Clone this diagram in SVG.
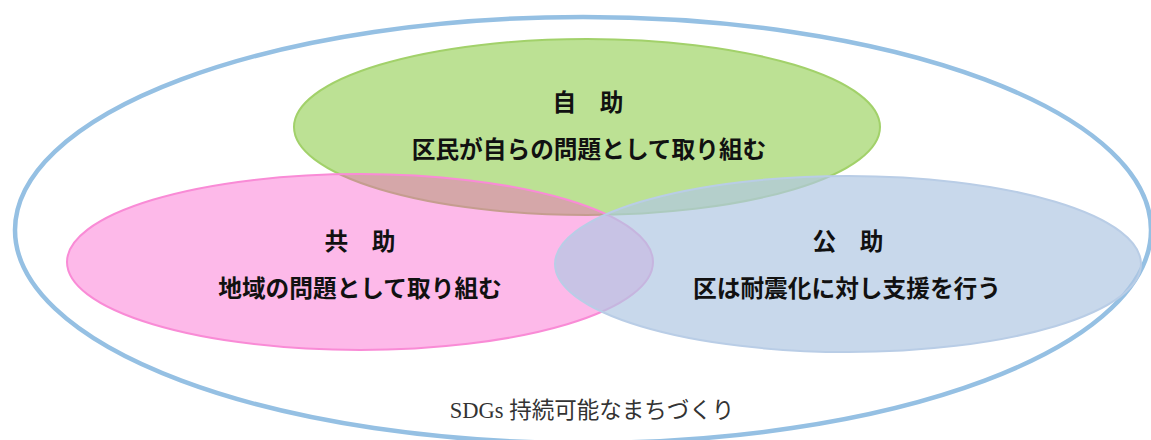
<svg xmlns="http://www.w3.org/2000/svg" width="1151" height="440" viewBox="0 0 1151 440">
<style>
.lbl{font-family:"Noto Sans CJK JP","Noto Sans",sans-serif;font-size:23.7px;font-weight:700;fill:#111;text-anchor:middle}
.foot{font-family:"Liberation Serif","Noto Sans CJK JP",serif;font-size:22.5px;fill:#333;text-anchor:middle}
</style>
<rect width="1151" height="440" fill="#ffffff"/>
<g id="outer">
<ellipse cx="583" cy="230" rx="568" ry="213" fill="none" stroke="#95c0e3" stroke-width="4.5"/>
<text class="foot" x="592" y="418">SDGs 持続可能なまちづくり</text>
</g>
<g id="jijo">
<ellipse cx="587" cy="127" rx="293" ry="88" fill="#bce194" stroke="#a2d16a" stroke-width="2"/>
<text class="lbl" x="588" y="111">自　助</text>
<text class="lbl" x="589" y="158">区民が自らの問題として取り組む</text>
</g>
<g id="kyojo">
<ellipse cx="360" cy="262" rx="293" ry="88" fill="rgb(250,80,200)" fill-opacity="0.4" stroke="#f98bd6" stroke-width="2"/>
<text class="lbl" x="360" y="250">共　助</text>
<text class="lbl" x="360" y="297">地域の問題として取り組む</text>
</g>
<g id="kojo">
<ellipse cx="848" cy="264" rx="293" ry="88" fill="rgb(176,199,226)" fill-opacity="0.7" stroke="#b9cde6" stroke-width="2"/>
<text class="lbl" x="848" y="250">公　助</text>
<text class="lbl" x="847" y="297">区は耐震化に対し支援を行う</text>
</g>
<g id="connectors"></g>
</svg>
